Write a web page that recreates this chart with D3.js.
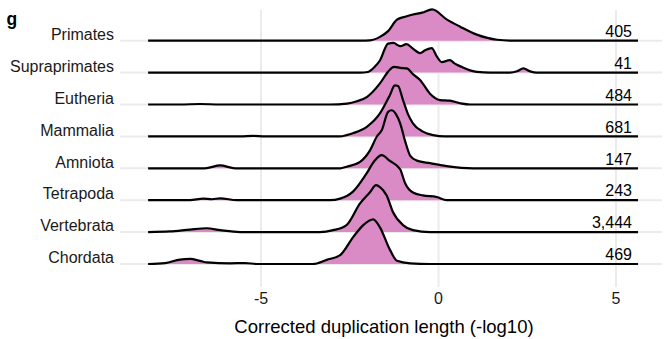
<!DOCTYPE html>
<html>
<head>
<meta charset="utf-8">
<script src="https://cdn.jsdelivr.net/npm/d3@7"></script>
<style>
  html, body { margin: 0; padding: 0; background: #fff; }
  svg { display: block; font-family: "Liberation Sans", Arial, Helvetica, sans-serif; }
</style>
</head>
<body>
<svg id="chart" width="665" height="339"></svg>
<script>
// --- DATA ---

// Clades, top to bottom, and the count printed at the right of each ridge
const categories = ["Primates", "Supraprimates", "Eutheria", "Mammalia", "Amniota", "Tetrapoda", "Vertebrata", "Chordata"];
const counts = ["405", "41", "484", "681", "147", "243", "3,444", "469"];
const xTicks = [-5, 0, 5];
const xLabel = "Corrected duplication length (-log10)";

// Ridge profiles: [corrected length (-log10), scaled density]
const primates = [[-8.18,0],[-2.2,0],[-1.93,0.01],[-1.65,0.12],[-1.42,0.3],[-1.17,0.66],[-0.94,0.75],[-0.72,0.82],[-0.46,0.88],[-0.18,0.98],[0.24,0.66],[0.61,0.44],[1.08,0.19],[1.65,0.03],[2.15,0],[5.62,0]];
const supraprimates = [[-8.18,0],[-2.21,0],[-1.99,0.02],[-1.79,0.19],[-1.65,0.38],[-1.42,0.91],[-1.27,0.93],[-1.08,0.83],[-0.9,0.89],[-0.72,0.75],[-0.52,0.61],[-0.38,0.7],[-0.19,0.77],[-0.04,0.49],[0.09,0.33],[0.32,0.39],[0.46,0.28],[0.65,0.18],[0.89,0.07],[1.08,0.02],[1.46,0],[2.01,0],[2.21,0.04],[2.39,0.13],[2.58,0.04],[2.77,0],[5.62,0]];
const eutheria = [[-8.18,0],[-7.28,0],[-6.72,0.015],[-6.15,0],[-3.06,0],[-2.58,0.03],[-2.3,0.1],[-2.01,0.24],[-1.65,0.66],[-1.42,1.03],[-1.25,1.18],[-1.08,1.15],[-0.89,1.13],[-0.72,0.95],[-0.52,0.77],[-0.24,0.34],[0.04,0.14],[0.32,0.12],[0.61,0.04],[0.89,0],[5.62,0]];
const mammalia = [[-8.18,0],[-5.58,0],[-5.23,0.015],[-4.89,0],[-2.77,0],[-2.59,0.04],[-2.41,0.1],[-2.02,0.3],[-1.65,0.72],[-1.37,1.29],[-1.23,1.6],[-1.14,1.58],[-1.0,1.14],[-0.86,0.7],[-0.72,0.41],[-0.44,0.15],[-0.15,0.04],[0.18,0],[5.62,0]];
const amniota = [[-8.18,0],[-6.58,0],[-6.15,0.09],[-5.73,0],[-2.77,0],[-2.59,0.05],[-2.21,0.2],[-1.93,0.56],[-1.74,0.99],[-1.6,1.19],[-1.42,1.77],[-1.32,1.82],[-1.2,1.7],[-1.08,1.41],[-0.94,0.85],[-0.8,0.4],[-0.61,0.24],[-0.24,0.16],[0.23,0.07],[0.97,0],[5.62,0]];
const tetrapoda = [[-8.18,0],[-7.0,0],[-6.63,0.05],[-6.38,0.03],[-6.15,0.06],[-5.68,0],[-3.06,0],[-2.77,0.05],[-2.41,0.27],[-2.02,0.85],[-1.79,1.25],[-1.6,1.41],[-1.37,1.23],[-1.08,0.97],[-0.94,0.53],[-0.72,0.24],[-0.44,0.15],[-0.05,0.1],[0.23,0],[5.62,0]];
const vertebrata = [[-8.18,0],[-7.56,0.02],[-7.0,0.08],[-6.53,0.12],[-6.15,0.06],[-5.59,0],[-3.34,0],[-2.97,0.06],[-2.59,0.22],[-2.21,0.9],[-1.93,1.25],[-1.76,1.47],[-1.65,1.41],[-1.46,1.15],[-1.28,0.62],[-1.0,0.22],[-0.72,0.06],[-0.24,0],[5.62,0]];
const chordata = [[-8.18,0],[-7.7,0.03],[-7.28,0.14],[-7.0,0.16],[-6.72,0.1],[-6.52,0.05],[-5.87,0.02],[-5.45,0.03],[-5.12,0],[-3.54,0],[-3.15,0.13],[-2.77,0.28],[-2.4,0.85],[-2.12,1.22],[-1.84,1.4],[-1.65,1.15],[-1.37,0.45],[-1.17,0.1],[-0.8,0.02],[-0.24,0],[5.62,0]];

const ridges = [primates, supraprimates, eutheria, mammalia, amniota, tetrapoda, vertebrata, chordata];

// --- LAYOUT ---

const fillColor = "#da8ac4";
const gridColor = "#ebebeb";
const panel = { left: 120, right: 662, top: 10, bottom: 287 };

const svg = d3.select("#chart");

// x: -5..5 sits between the outer grid lines
const x = d3.scaleLinear().domain([-5, 5]).range([261, 616]);
// baseline of each ridge
const y = d3.scalePoint().domain(categories).range([40.7, 264]);
const rowStep = y.step();
// scaled density -> pixel height (1 = one row)
const h = d3.scaleLinear().domain([0, 1]).range([0, rowStep]);

// --- GRID ---

const grid = svg.append("g").attr("class", "grid");
grid.selectAll("line.v")
    .data(xTicks)
    .join("line")
    .attr("class", "v")
    .attr("x1", d => x(d)).attr("x2", d => x(d))
    .attr("y1", panel.top).attr("y2", panel.bottom)
    .attr("stroke", gridColor).attr("stroke-width", 2);

grid.selectAll("line.h")
    .data(categories)
    .join("line")
    .attr("class", "h")
    .attr("x1", panel.left).attr("x2", panel.right)
    .attr("y1", d => y(d)).attr("y2", d => y(d))
    .attr("stroke", gridColor).attr("stroke-width", 2);

// --- RIDGES ---

// top ridge first so lower ridges overlap it
categories.forEach((cat, i) => {
    const base = y(cat);
    const pts = ridges[i];

    const area = d3.area()
        .x(d => x(d[0]))
        .y0(base)
        .y1(d => base - h(d[1]))
        .curve(d3.curveMonotoneX);

    const line = d3.line()
        .x(d => x(d[0]))
        .y(d => base - h(d[1]))
        .curve(d3.curveMonotoneX);

    const g = svg.append("g").attr("class", "ridge");
    g.append("path").attr("d", area(pts)).attr("fill", fillColor);
    g.append("path").attr("d", line(pts))
        .attr("fill", "none")
        .attr("stroke", "#000")
        .attr("stroke-width", 2.2)
        .attr("stroke-linejoin", "round")
        .attr("stroke-linecap", "butt");
});

// --- TEXT ---

// counts at the right of each ridge
svg.append("g").selectAll("text")
    .data(categories)
    .join("text")
    .attr("x", 632)
    .attr("y", d => y(d) - 3.8)
    .attr("text-anchor", "end")
    .attr("font-size", 16)
    .attr("fill", "#000")
    .text((d, i) => counts[i]);

// category labels
svg.append("g").selectAll("text")
    .data(categories)
    .join("text")
    .attr("x", 114)
    .attr("y", d => y(d) - 0.8)
    .attr("text-anchor", "end")
    .attr("font-size", 16)
    .attr("fill", "#1a1a1a")
    .text(d => d);

// x axis tick labels
svg.append("g").selectAll("text")
    .data(xTicks)
    .join("text")
    .attr("x", d => x(d))
    .attr("y", 304)
    .attr("text-anchor", "middle")
    .attr("font-size", 16)
    .attr("fill", "#1a1a1a")
    .text(d => d);

// axis title
svg.append("text")
    .attr("x", 384)
    .attr("y", 333)
    .attr("text-anchor", "middle")
    .attr("font-size", 18.5)
    .attr("fill", "#000")
    .text(xLabel);

// panel tag
svg.append("text")
    .attr("x", 6.5)
    .attr("y", 25)
    .attr("font-size", 17.5)
    .attr("font-weight", "bold")
    .attr("fill", "#000")
    .text("g");
</script>
</body>
</html>
